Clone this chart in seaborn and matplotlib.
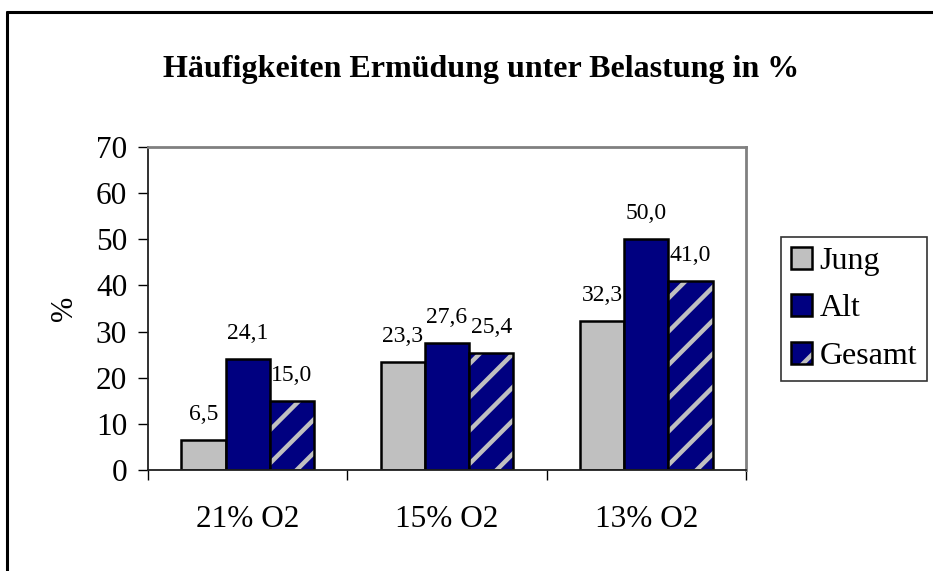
import matplotlib
matplotlib.use("Agg")
import matplotlib.pyplot as plt
from matplotlib.patches import Patch, Rectangle
from matplotlib.lines import Line2D
from matplotlib.legend_handler import HandlerTuple
import seaborn as sns
import pandas as pd

categories = ["21% O2", "15% O2", "13% O2"]
series = ["Jung", "Alt", "Gesamt"]
jung = [6.5, 23.3, 32.3]
alt = [24.1, 27.6, 50.0]
gesamt = [15.0, 25.4, 41.0]
yticks = [0, 10, 20, 30, 40, 50, 60, 70]
title = "Häufigkeiten Ermüdung unter Belastung in %"
ylabel = "%"

colors = {"Jung": "#C0C0C0", "Alt": "#000080", "Gesamt": "#000080"}
hatch_color = "#C0C0C0"

df = pd.DataFrame({
    "cat": categories * 3,
    "series": ["Jung"] * 3 + ["Alt"] * 3 + ["Gesamt"] * 3,
    "val": jung + alt + gesamt,
})

sns.set_theme(style="white")
plt.rcParams["font.family"] = ["Liberation Serif", "DejaVu Serif"]
plt.rcParams["hatch.linewidth"] = 3.2
for k in ["text.color", "axes.labelcolor", "xtick.color", "ytick.color"]:
    plt.rcParams[k] = "black"

W, H = 933, 571
fig = plt.figure(figsize=(W / 100, H / 100), dpi=100)
fig.patch.set_facecolor("white")
ax = fig.add_axes([148 / W, 1 - 470 / H, (746 - 148) / W, (470 - 147) / H])

sns.barplot(data=df, x="cat", y="val", hue="series", order=categories,
            hue_order=series, palette=colors, width=0.667, ax=ax,
            edgecolor="black", linewidth=1.8, legend=False, errorbar=None,
            saturation=1)

# Gesamt bars: hatch with grey stripes, then black outline overlay
n = len(categories)
patches = [p for p in ax.patches]
for i, p in enumerate(patches[2 * n:3 * n]):
    p.set_edgecolor(hatch_color)
    p.set_hatch("/")
    p.set_linewidth(0)
    ax.add_patch(Rectangle((p.get_x(), p.get_y()), p.get_width(), p.get_height(),
                           fill=False, edgecolor="black", linewidth=1.8, zorder=p.get_zorder() + 0.1))

# data labels
vals_all = jung + alt + gesamt
for p, v in zip(patches[:3 * n], vals_all):
    ax.annotate(f"{v:.1f}".replace(".", ","),
                (p.get_x() + p.get_width() / 2, p.get_height()),
                xytext=(0, 14.5), textcoords="offset points",
                ha="center", va="baseline", fontsize=17, color="black")

ax.set_xlim(-0.5, n - 0.5)
ax.set_ylim(0, 70)
ax.set_yticks(yticks)
ax.set_yticklabels([str(t) for t in yticks])
ax.set_xticks(range(n))
ax.set_xticklabels(categories)
ax.set_xticks([i - 0.5 for i in range(n + 1)], minor=True)
ax.tick_params(axis="x", which="major", length=0, pad=25, labelsize=22.5)
ax.tick_params(axis="x", which="minor", length=7, width=1, color="black", direction="out", bottom=True)
ax.tick_params(axis="y", which="major", length=7, width=1, color="black", direction="out",
               left=True, pad=8, labelsize=22.5)
ax.set_xlabel("")
ax.set_ylabel(ylabel, fontsize=22, labelpad=12)

for s in ["left", "bottom"]:
    ax.spines[s].set_color("#202020")
    ax.spines[s].set_linewidth(1.3)
for s in ["top", "right"]:
    ax.spines[s].set_color("#808080")
    ax.spines[s].set_linewidth(2)
    ax.spines[s].set_visible(True)

# legend
h_jung = Patch(facecolor=colors["Jung"], edgecolor="black", linewidth=1.8)
h_alt = Patch(facecolor=colors["Alt"], edgecolor="black", linewidth=1.8)
h_ges = (Patch(facecolor=colors["Gesamt"], edgecolor=hatch_color, hatch="/", linewidth=0),
         Patch(fill=False, edgecolor="black", linewidth=1.8))
leg = fig.legend([h_jung, h_alt, h_ges], series,
                 handler_map={tuple: HandlerTuple(ndivide=1, pad=0)},
                 loc="upper left", bbox_to_anchor=(781 / W, 1 - 237 / H),
                 bbox_transform=fig.transFigure, fontsize=23, frameon=True,
                 fancybox=False, shadow=False, borderaxespad=0,
                 handlelength=0.68, handleheight=0.68, handletextpad=0.22,
                 labelspacing=0.58, borderpad=0.3)
leg.get_frame().set_edgecolor("black")
leg.get_frame().set_linewidth(1.2)

fig.text(481 / W, 1 - 70 / H, title, ha="center", va="center",
         fontsize=23, fontweight="bold")

# outer chart border (top and left visible)
fig.add_artist(Line2D([7 / W, 1.0], [1 - 12 / H, 1 - 12 / H], transform=fig.transFigure,
                      color="black", linewidth=2.2))
fig.add_artist(Line2D([7 / W, 7 / W], [0, 1 - 12 / H], transform=fig.transFigure,
                      color="black", linewidth=2.2))

fig.savefig("out.png", dpi=100)
